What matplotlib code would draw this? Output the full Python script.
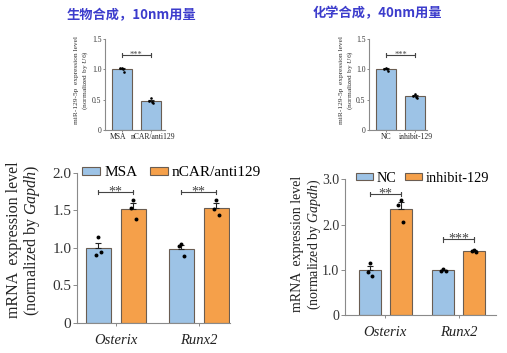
import matplotlib
matplotlib.use("Agg")
import matplotlib.pyplot as plt
import matplotlib.transforms as mtransforms
import numpy as np

plt.rcParams["font.family"] = ["Liberation Serif", "DejaVu Serif"]
plt.rcParams["mathtext.fontset"] = "custom"
plt.rcParams["mathtext.rm"] = "Liberation Serif"
plt.rcParams["mathtext.it"] = "Liberation Serif:italic"

# --- data ------------------------------------------------------------------
bio_groups = ["MSA", "nCAR/anti129"]
bio_mir = [[1.03, 1.02, 0.96, 1.00], [0.52, 0.48, 0.45, 0.46]]

chem_groups = ["NC", "inhibit-129"]
chem_mir = [[1.03, 1.01, 0.97, 1.00], [0.60, 0.56, 0.52, 0.55]]

genes = ["Osterix", "Runx2"]
bio_mrna_ctrl = [[1.14, 0.91, 0.95], [1.05, 1.03, 0.89]]
bio_mrna_trt = [[1.64, 1.53, 1.39], [1.64, 1.52, 1.44]]
chem_mrna_ctrl = [[1.15, 0.96, 0.87], [1.01, 0.98, 0.97]]
chem_mrna_trt = [[2.54, 2.44, 2.06], [1.44, 1.41, 1.40]]

top_stars = ["***", "***"]
bio_stars = ["**", "**"]
chem_stars = ["**", "***"]

titles = ["生物合成，10nm用量", "化学合成，40nm用量"]

BLUE = "#9dc3e6"
ORANGE = "#f5a04a"
EDGE = "#6a5d52"
AXIS = "#8a8a8a"
TITLE_BLUE = "#3c3ccc"

W, H = 507, 353
fig = plt.figure(figsize=(W / 100, H / 100), dpi=100)


def px_axes(left, top, right, bottom):
    return fig.add_axes([left / W, 1 - bottom / H, (right - left) / W, (bottom - top) / H])


def style_axes(ax, size, ticklen):
    for side in ("top", "right"):
        ax.spines[side].set_visible(False)
    for side in ("left", "bottom"):
        ax.spines[side].set_color(AXIS)
        ax.spines[side].set_linewidth(0.8)
    ax.tick_params(direction="out", length=ticklen, width=0.7, color=AXIS,
                   labelsize=size, labelcolor="#333333", pad=1)


def sem(v):
    v = np.asarray(v)
    return v.std(ddof=1) / np.sqrt(len(v))


def bars(ax, x, vals, color, width, dot, ecap):
    means = [np.mean(v) for v in vals]
    errs = [sem(v) for v in vals]
    ax.bar(x, means, width, color=color, edgecolor=EDGE, linewidth=0.8, zorder=2)
    ax.errorbar(x, means, yerr=[np.zeros(len(errs)), errs], fmt="none",
                ecolor="#222222", elinewidth=0.8, capsize=ecap, capthick=0.8, zorder=3)
    offs = [0.0, -0.05, 0.05, 0.02]
    for xi, v in zip(x, vals):
        ax.scatter(xi + np.array(offs[:len(v)]) * width * 2, v, s=dot, color="black",
                   zorder=4, linewidths=0)


def bracket(ax, x0, x1, y, h, text, size, lift):
    ax.plot([x0, x0, x0, x1, x1, x1], [y - h, y + h, y, y, y + h, y - h],
            color="#444444", lw=0.8, zorder=5)
    ax.annotate(text, xy=((x0 + x1) / 2, y), xytext=(0, lift), textcoords="offset points",
                ha="center", va="baseline", fontsize=size, color="#444444")


# --- top small panels --------------------------------------------------------
def top_panel(box, groups, vals, stars, xlim, width, ylab_x, title_xy, title, nudge):
    ax = px_axes(*box)
    style_axes(ax, 5.5, 1.5)
    x = np.arange(len(groups))
    bars(ax, x, vals, BLUE, width, 3.5, 2)
    ax.set_xlim(*xlim)
    ax.set_ylim(0, 1.5)
    ax.set_yticks([0, 0.5, 1.0, 1.5], ["0", "0.5", "1.0", "1.5"])
    ax.set_xticks(x, groups)
    ax.tick_params(axis="x", labelsize=5.5, labelcolor="#222222")
    for lab, dx in zip(ax.get_xticklabels(), nudge):
        lab.set_transform(lab.get_transform() +
                          mtransforms.ScaledTranslation(dx / 100, 0, fig.dpi_scale_trans))
    bracket(ax, 0.0, 1.0, 1.24, 0.03, stars[0], 6, -1.5)
    fig.text(ylab_x[0] / W, 1 - 80 / H, "miR-129-5p  expression level",
             rotation=90, ha="center", va="center", fontsize=5.3, color="#333333")
    fig.text(ylab_x[1] / W, 1 - 80 / H, r"(normalized by $\it{U6}$)",
             rotation=90, ha="center", va="center", fontsize=5.3, color="#333333")
    fig.text(title_xy[0] / W, 1 - title_xy[1] / H, title, ha="center", va="center",
             fontsize=9.5, fontweight="bold", color=TITLE_BLUE,
             family=["Noto Sans CJK SC", "DejaVu Sans"])
    return ax


top_panel((105, 39, 165, 130), bio_groups, bio_mir, top_stars, (-0.58, 1.49), 0.69,
          (76.5, 85), (131, 15), titles[0], (-4, 2))
top_panel((369, 39, 427, 130), chem_groups, chem_mir, top_stars, (-0.6, 1.42), 0.68,
          (341.5, 350), (377, 13), titles[1], (0, 1))


# --- bottom mRNA panels --------------------------------------------------------
def bottom_panel(box, ctrl, trt, labels, stars, xlim, ymax, yticks, ylabels,
                 star_y, star_h, ylab_x, ylab_y, leg_xy, colsp, fs, lab_fs):
    ax = px_axes(*box)
    style_axes(ax, fs, 3)
    x = np.arange(len(genes))
    off, width = 0.21, 0.30
    bars(ax, x - off, ctrl, BLUE, width, 8, 2.5)
    bars(ax, x + off, trt, ORANGE, width, 8, 2.5)
    ax.set_xlim(*xlim)
    ax.set_ylim(0, ymax)
    ax.set_yticks(yticks, ylabels)
    ax.set_xticks(x, genes, fontstyle="italic")
    ax.tick_params(axis="x", length=2, labelsize=10.5, labelcolor="#222222", pad=6)
    for xi, s, sy in zip(x, stars, star_y):
        bracket(ax, xi - off, xi + off, sy, star_h, s, 10, -2.5)
    fig.text(ylab_x[0] / W, 1 - ylab_y / H, "mRNA  expression level", rotation=90,
             ha="center", va="center", fontsize=lab_fs, color="#222222")
    fig.text(ylab_x[1] / W, 1 - ylab_y / H, r"(normalized by $\it{Gapdh}$)", rotation=90,
             ha="center", va="center", fontsize=lab_fs, color="#222222")
    handles = [plt.Rectangle((0, 0), 1, 1, facecolor=c, edgecolor=EDGE, linewidth=0.8)
               for c in (BLUE, ORANGE)]
    ax.legend(handles, labels, ncol=2, frameon=False, loc="center left",
              bbox_to_anchor=(leg_xy[0] / W, 1 - leg_xy[1] / H),
              bbox_transform=fig.transFigure, fontsize=leg_xy[2], borderpad=0,
              borderaxespad=0, handlelength=1.2, handleheight=0.45,
              handletextpad=0.25, columnspacing=colsp)
    return ax


bottom_panel((77, 172.7, 230, 323), bio_mrna_ctrl, bio_mrna_trt, ["MSA", "nCAR/anti129"],
             bio_stars, (-0.467, 1.376), 2.0, [0, 0.5, 1.0, 1.5, 2.0],
             ["0", "0.5", "1.0", "1.5", "2.0"], [1.74, 1.74], 0.03,
             (14, 32), 240, (82, 173, 11), 0.8, 11, 11.5)
bottom_panel((345, 179.3, 496, 315), chem_mrna_ctrl, chem_mrna_trt, ["NC", "inhibit-129"],
             chem_stars, (-0.546, 1.505), 3.0, [0, 1.0, 2.0, 3.0],
             ["0", "1.0", "2.0", "3.0"], [2.68, 1.67], 0.05,
             (298, 314), 244, (356, 178, 10.3), 0.6, 10, 10)

fig.savefig("out.png", dpi=100)
